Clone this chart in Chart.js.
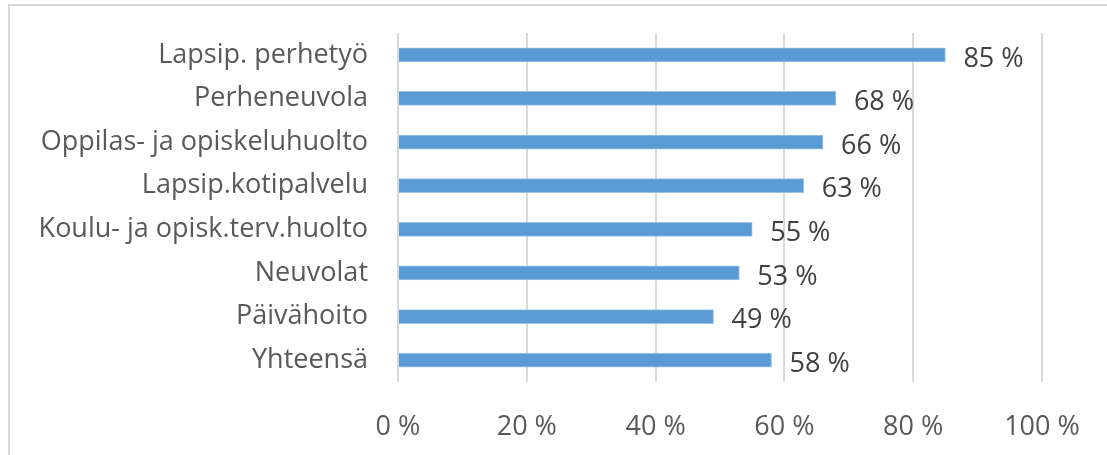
<!DOCTYPE html>
<html>
<head>
<meta charset="utf-8">
<script src="https://cdn.jsdelivr.net/npm/chart.js@4"></script>
<style>
    html, body { margin: 0; padding: 0; background: #fff; overflow: hidden; }
    #wrap { position: relative; width: 1107px; height: 455px; }
    #frame { position: absolute; left: 8px; top: 4px; width: 1200px; height: 600px; border: 2px solid #d9d9d9; box-sizing: border-box; }
    canvas { position: absolute; left: 0; top: 0; }
</style>
</head>
<body>
<div id="wrap">
    <div id="frame"></div>
    <canvas id="grafico" width="1107" height="455"></canvas>
</div>
<script>
const categorias = ['Lapsip. perhetyö', 'Perheneuvola', 'Oppilas- ja opiskeluhuolto', 'Lapsip.kotipalvelu',
    'Koulu- ja opisk.terv.huolto', 'Neuvolat', 'Päivähoito', 'Yhteensä'];
const osuudet = [85, 68, 66, 63, 55, 53, 49, 58];
const ticksX = [0, 20, 40, 60, 80, 100];

const fonte = "'Open Sans', sans-serif";

// rótulos de valor à direita das barras
const rotulos = {
    id: 'rotulos',
    afterDatasetsDraw(chart) {
        const ctx = chart.ctx;
        const meta = chart.getDatasetMeta(0);
        ctx.save();
        ctx.font = '27px ' + fonte;
        ctx.fillStyle = '#404040';
        ctx.textAlign = 'left';
        ctx.textBaseline = 'middle';
        meta.data.forEach((bar, i) => {
            ctx.fillText(osuudet[i] + ' %', bar.x + 18, bar.y + 4);
        });
        ctx.restore();
    }
};

new Chart(document.getElementById('grafico'), {
    type: 'bar',
    data: {
        labels: categorias,
        datasets: [{
            data: osuudet,
            backgroundColor: '#5b9bd5',
            borderColor: '#9dc3e6',
            borderWidth: 1,
            barThickness: 14
        }]
    },
    options: {
        indexAxis: 'y',
        responsive: false,
        animation: false,
        layout: { padding: { left: 0, top: 33, right: 65, bottom: 0 } },
        plugins: { legend: { display: false }, tooltip: { enabled: false } },
        scales: {
            x: {
                min: 0,
                max: 100,
                afterBuildTicks: (scale) => { scale.ticks = ticksX.map(v => ({ value: v })); },
                grid: { color: '#d9d9d9', lineWidth: 2, drawTicks: false },
                border: { display: false },
                ticks: {
                    color: '#595959',
                    font: { family: fonte, size: 27 },
                    padding: 29,
                    callback: (v) => v + ' %'
                },
                afterFit: (scale) => {
                    scale.height = 455 - 382;
                    scale.paddingLeft = 0;
                    scale.paddingRight = 0;
                }
            },
            y: {
                grid: { display: false, drawTicks: false },
                border: { display: false },
                ticks: {
                    color: '#595959',
                    font: { family: fonte, size: 27 },
                    padding: 30
                },
                afterFit: (scale) => {
                    scale.width = 398;
                    scale.paddingTop = 0;
                    scale.paddingBottom = 0;
                }
            }
        }
    },
    plugins: [rotulos]
});
</script>
</body>
</html>
